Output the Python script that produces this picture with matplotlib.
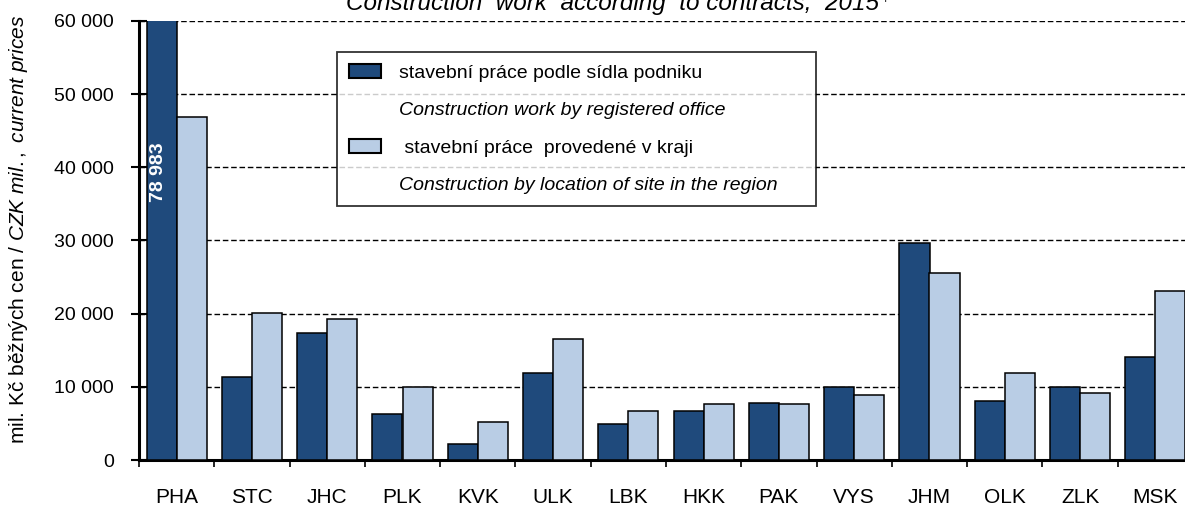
import numpy as np
import matplotlib.pyplot as plt
from matplotlib.patches import Patch

plt.rcParams['font.family'] = ['Liberation Sans', 'DejaVu Sans']
plt.rcParams['mathtext.fontset'] = 'custom'
plt.rcParams['mathtext.rm'] = 'Liberation Sans'
plt.rcParams['mathtext.it'] = 'Liberation Sans:italic'

regions = ["PHA", "STC", "JHC", "PLK", "KVK", "ULK", "LBK", "HKK",
           "PAK", "VYS", "JHM", "OLK", "ZLK", "MSK"]
by_office = [78983, 11400, 17330, 6220, 2130, 11950, 4860, 6680,
             7820, 10040, 29650, 8090, 10040, 14090]
by_site = [46840, 20100, 19320, 10040, 5130, 16590, 6680, 7590,
           7590, 8950, 25550, 11910, 9180, 23100]
yticks = [0, 10000, 20000, 30000, 40000, 50000, 60000]

dark = '#1f4a7c'
light = '#b9cde5'

fig = plt.figure(figsize=(11.85, 5.11), dpi=100)
ax = fig.add_axes([139 / 1185, 51 / 511, 1054 / 1185, 439 / 511])

x = np.arange(len(regions)) + 0.5
w = 0.4
ax.bar(x - w / 2, by_office, w, color=dark, edgecolor='black', linewidth=1.1, zorder=3)
ax.bar(x + w / 2, by_site, w, color=light, edgecolor='black', linewidth=1.1, zorder=3)

ax.set_xlim(0, len(regions))
ax.set_ylim(0, 60000)
ax.set_yticks(yticks)
ax.set_yticklabels([f"{v:,}".replace(",", " ") for v in yticks], fontsize=14)
ax.yaxis.grid(True, color='black', linestyle=(0, (4, 2)), linewidth=1.0, zorder=0)

ax.set_xticks(np.arange(len(regions) + 1))
ax.set_xticklabels([])
ax.set_xticks(x, minor=True)
ax.set_xticklabels(regions, minor=True, fontsize=15)
ax.tick_params(axis='x', which='minor', length=0, pad=20)
ax.tick_params(axis='x', which='major', direction='out', length=5, width=1.2)
ax.tick_params(axis='y', direction='inout', length=12, width=1.5, pad=12)

for s in ['top', 'right']:
    ax.spines[s].set_visible(False)
ax.spines['left'].set_linewidth(2.2)
ax.spines['bottom'].set_linewidth(2.2)

# clipped Prague bar value
ax.text(x[0] - w / 2 - 0.04, 39300, "78 983", rotation=90, color='white',
        fontweight='bold', fontsize=14, ha='center', va='center', zorder=4)

ax.set_ylabel(r"mil. Kč běžných cen / $\it{CZK\ mil.,\ current\ prices}$", fontsize=15)
ax.yaxis.set_label_coords((30 - 139) / 1054, (460 - 229) / 439)

title = fig.text(0.517, 1 - 10 / 511, "Construction  work  according  to contracts,  2015",
                 fontsize=17.5, style='italic', ha='center', va='baseline')
fig.canvas.draw()
bb = title.get_window_extent().transformed(fig.transFigure.inverted())
fig.text(bb.x1 + 0.002, 1 - 3 / 511, "+", fontsize=9, ha='left', va='baseline')

blank = Patch(facecolor='none', edgecolor='none')
handles = [Patch(facecolor=dark, edgecolor='black', linewidth=1.5), blank,
           Patch(facecolor=light, edgecolor='black', linewidth=1.5), blank]
labels = ["stavební práce podle sídla podniku",
          "Construction work by registered office",
          " stavební práce  provedené v kraji",
          "Construction by location of site in the region     "]
leg = fig.legend(handles, labels, loc='upper left',
                 bbox_to_anchor=(337 / 1185, 1 - 52 / 511), fontsize=14,
                 frameon=True, fancybox=False, edgecolor='black',
                 handlelength=1.65, handleheight=0.77, handletextpad=0.95,
                 labelspacing=1.0, borderpad=0.6, borderaxespad=0)
leg.get_frame().set_linewidth(1.3)
for i in (1, 3):
    leg.get_texts()[i].set_style('italic')

fig.savefig("out.png", dpi=100)
